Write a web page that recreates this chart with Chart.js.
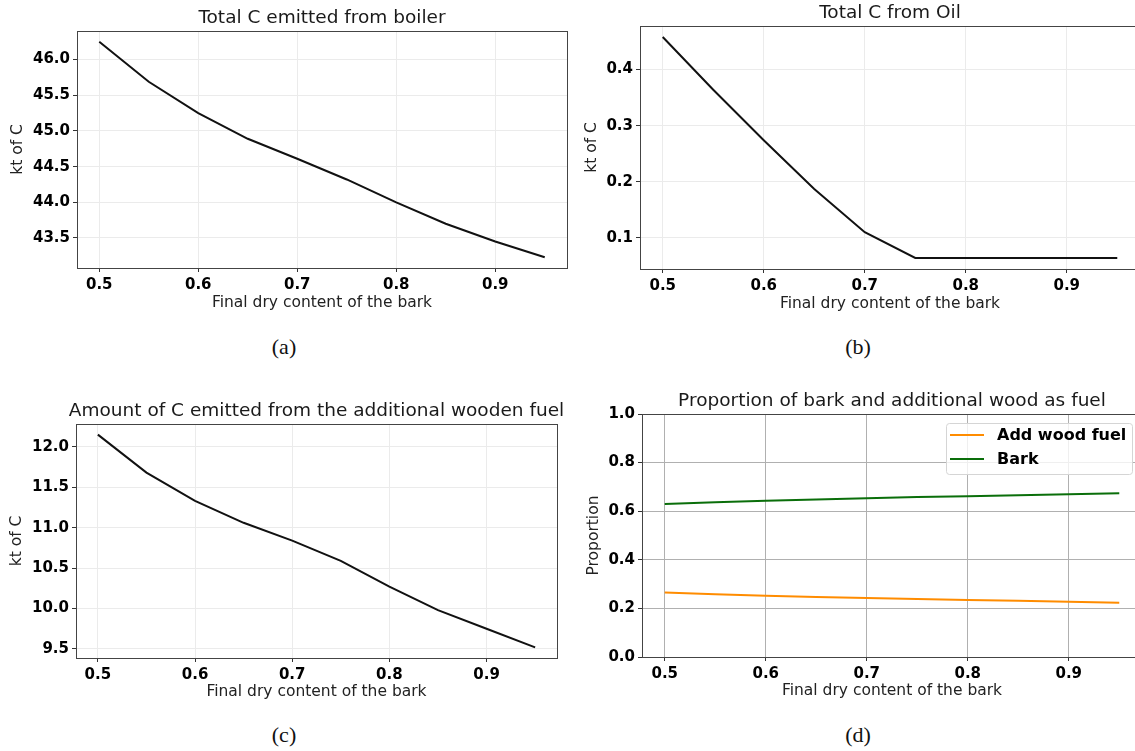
<!DOCTYPE html>
<html>
<head>
<meta charset="utf-8">
<script src="https://cdn.jsdelivr.net/npm/chart.js@4.4.0/dist/chart.umd.min.js"></script>
<style>
  html, body { margin: 0; padding: 0; background: #fff; width: 1135px; height: 751px; overflow: hidden; }
  canvas { position: absolute; }
  .sub { position: absolute; font-family: "Liberation Serif", serif; font-size: 22px; color: #111; transform: translate(-50%, -50%); }
</style>
</head>
<body>
<canvas id="chartA" width="570" height="320" style="left:0;top:0"></canvas>
<canvas id="chartB" width="570" height="320" style="left:570px;top:0"></canvas>
<canvas id="chartC" width="570" height="320" style="left:0;top:390px"></canvas>
<canvas id="chartD" width="572" height="320" style="left:570px;top:390px"></canvas>
<div class="sub" style="left:284px;top:347px">(a)</div>
<div class="sub" style="left:858px;top:347px">(b)</div>
<div class="sub" style="left:284px;top:735px">(c)</div>
<div class="sub" style="left:858px;top:735px">(d)</div>
<script>
// values
const dryContent = [0.5, 0.55, 0.6, 0.65, 0.7, 0.75, 0.8, 0.85, 0.9, 0.95];
const boilerC = [46.25, 45.69, 45.25, 44.89, 44.61, 44.32, 44.00, 43.70, 43.45, 43.23];
const oilC = [0.458, 0.364, 0.274, 0.187, 0.110, 0.064, 0.064, 0.064, 0.064, 0.064];
const woodFuelC = [12.15, 11.68, 11.33, 11.06, 10.84, 10.59, 10.27, 9.98, 9.75, 9.52];
const shareWood = [0.265, 0.258, 0.252, 0.247, 0.243, 0.239, 0.235, 0.231, 0.227, 0.223];
const shareBark = [0.630, 0.637, 0.643, 0.648, 0.653, 0.658, 0.662, 0.666, 0.670, 0.674];

const xTicks = [0.5, 0.6, 0.7, 0.8, 0.9];
const boilerTicks = [43.5, 44.0, 44.5, 45.0, 45.5, 46.0];
const oilTicks = [0.1, 0.2, 0.3, 0.4];
const woodTicks = [9.5, 10.0, 10.5, 11.0, 11.5, 12.0];
const shareTicks = [0, 0.2, 0.4, 0.6, 0.8, 1.0];

Chart.defaults.font.family = 'DejaVu Sans';

// title centred over the plot area, like matplotlib does
const panelTitle = {
  id: 'panelTitle',
  afterDraw(chart, args, opts) {
    const { ctx, chartArea } = chart;
    ctx.save();
    ctx.font = '18.5px "DejaVu Sans"';
    ctx.fillStyle = '#1a1a1a';
    ctx.textAlign = 'center';
    ctx.textBaseline = 'middle';
    ctx.fillText(opts.text, (chartArea.left + chartArea.right) / 2, chartArea.top - 13);
    ctx.restore();
  }
};

// four spines
const frame = {
  id: 'frame',
  afterDraw(chart) {
    const { ctx, chartArea: a } = chart;
    ctx.save();
    ctx.strokeStyle = '#444';
    ctx.lineWidth = 1;
    ctx.strokeRect(Math.round(a.left) + 0.5, Math.round(a.top) + 0.5, Math.round(a.right - a.left), Math.round(a.bottom - a.top));
    ctx.restore();
  }
};

// matplotlib-ish legend box in the upper right
const boxLegend = {
  id: 'boxLegend',
  afterDraw(chart, args, opts) {
    if (!opts.show) return;
    const { ctx, chartArea } = chart;
    const w = 186, h = 51;
    const x = chartArea.right - 10 - w, y = chartArea.top + 9;
    ctx.save();
    ctx.beginPath();
    ctx.roundRect(x + 0.5, y + 0.5, w, h, 3);
    ctx.fillStyle = 'rgba(255,255,255,0.8)';
    ctx.fill();
    ctx.strokeStyle = '#d5d5d5';
    ctx.lineWidth = 1;
    ctx.stroke();
    chart.data.datasets.forEach((ds, i) => {
      const ry = y + 12 + i * 24;
      ctx.beginPath();
      ctx.moveTo(x + 4, ry);
      ctx.lineTo(x + 38, ry);
      ctx.strokeStyle = ds.borderColor;
      ctx.lineWidth = 2;
      ctx.stroke();
      ctx.fillStyle = '#000';
      ctx.font = 'bold 16px "DejaVu Sans"';
      ctx.textBaseline = 'middle';
      ctx.fillText(ds.label, x + 51, ry + 1);
    });
    ctx.restore();
  }
};

function range(values) {
  const lo = Math.min(...values), hi = Math.max(...values);
  const m = (hi - lo) * 0.05;
  return [lo - m, hi + m];
}

function drawPanel(canvasId, cfg) {
  const [xMin, xMax] = range(dryContent);
  const [yMin, yMax] = cfg.yRange || range(cfg.series.flatMap(s => s.values));
  const gridColor = cfg.darkGrid ? '#b0b0b0' : '#ebebeb';
  const tickFont = { family: 'DejaVu Sans', size: 15, weight: 'bold' };
  const labelFont = { family: 'DejaVu Sans', size: 15.5 };
  const box = cfg.box;

  return new Chart(document.getElementById(canvasId), {
    type: 'line',
    data: {
      datasets: cfg.series.map(s => ({
        label: s.label,
        data: dryContent.map((x, i) => ({ x, y: s.values[i] })),
        borderColor: s.color,
        borderWidth: 2,
        pointRadius: 0,
        tension: 0,
        fill: false
      }))
    },
    options: {
      responsive: false,
      animation: false,
      layout: { padding: { top: box.top, right: box.right, left: 0, bottom: 0 } },
      plugins: {
        legend: { display: false },
        tooltip: { enabled: false },
        panelTitle: { text: cfg.title },
        boxLegend: { show: !!cfg.legend }
      },
      scales: {
        x: {
          type: 'linear',
          min: xMin,
          max: xMax,
          afterBuildTicks: s => { s.ticks = xTicks.map(v => ({ value: v })); },
          afterFit: s => { s.height = box.xAxis; },
          ticks: { font: tickFont, color: '#000', padding: 4, maxRotation: 0, autoSkip: false, callback: v => v.toFixed(1) },
          grid: { color: gridColor, tickColor: '#333', tickLength: 4 },
          border: { display: false },
          title: { display: true, text: 'Final dry content of the bark', font: labelFont, color: '#222', padding: { top: 0, bottom: box.xTitle } }
        },
        y: {
          type: 'linear',
          min: yMin,
          max: yMax,
          afterBuildTicks: s => { s.ticks = cfg.yTicks.map(v => ({ value: v })); },
          afterFit: s => { s.width = box.yAxis; },
          ticks: { font: tickFont, color: '#000', padding: 3, autoSkip: false, callback: v => v.toFixed(1) },
          grid: { color: gridColor, tickColor: '#333', tickLength: 4 },
          border: { display: false },
          title: { display: true, text: cfg.yLabel, font: labelFont, color: '#222', padding: { top: box.yTitle, bottom: 0 } }
        }
      }
    },
    plugins: [panelTitle, frame, boxLegend]
  });
}

drawPanel('chartA', {
  title: 'Total C emitted from boiler',
  yLabel: 'kt of C',
  yTicks: boilerTicks,
  series: [{ label: 'Boiler', values: boilerC, color: '#111' }],
  box: { top: 31, right: 3, yAxis: 77, xAxis: 52, yTitle: 9, xTitle: 8 }
});

drawPanel('chartB', {
  title: 'Total C from Oil',
  yLabel: 'kt of C',
  yTicks: oilTicks,
  series: [{ label: 'Oil', values: oilC, color: '#111' }],
  box: { top: 26, right: 0, yAxis: 70, xAxis: 51, yTitle: 13, xTitle: 7 }
});

drawPanel('chartC', {
  title: 'Amount of C emitted from the additional wooden fuel',
  yLabel: 'kt of C',
  yTicks: woodTicks,
  series: [{ label: 'Wood fuel', values: woodFuelC, color: '#111' }],
  box: { top: 34, right: 13, yAxis: 76, xAxis: 52, yTitle: 8, xTitle: 9 }
});

drawPanel('chartD', {
  title: 'Proportion of bark and additional wood as fuel',
  yLabel: 'Proportion',
  yTicks: shareTicks,
  yRange: [0, 1],
  darkGrid: true,
  legend: true,
  series: [
    { label: 'Add wood fuel', values: shareWood, color: '#ff8c00' },
    { label: 'Bark', values: shareBark, color: '#0a6e0a' }
  ],
  box: { top: 24, right: 0, yAxis: 72, xAxis: 53, yTitle: 15, xTitle: 10 }
});
</script>
</body>
</html>
